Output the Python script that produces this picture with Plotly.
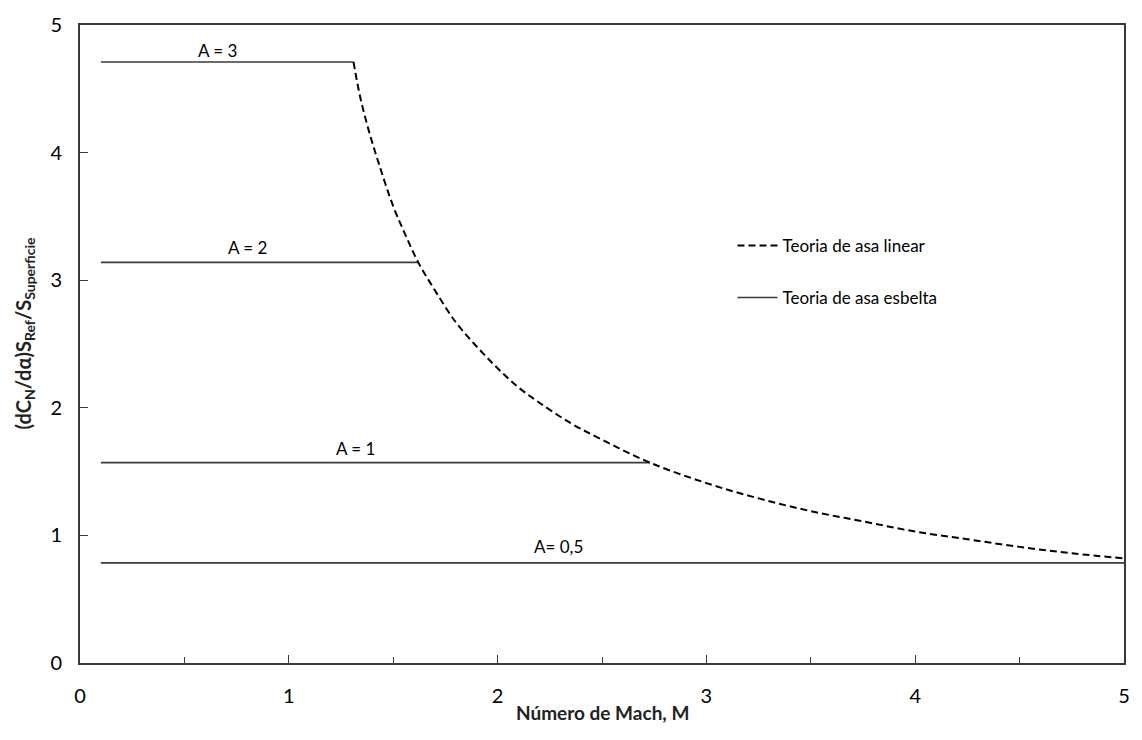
import plotly.graph_objects as go

# Linear wing theory curve (supersonic), normal-force slope vs Mach number
mach_linear = [1.31, 1.34, 1.38, 1.43, 1.50, 1.56, 1.62, 1.70, 1.80, 1.90, 2.00, 2.10, 2.20, 2.35,
               2.50, 2.73, 3.00, 3.25, 3.50, 3.75, 4.00, 4.25, 4.50, 4.75, 5.00]
cn_linear = [4.71, 4.45, 4.19, 3.92, 3.58, 3.35, 3.14, 2.92, 2.67, 2.48, 2.31, 2.16, 2.04, 1.88,
             1.75, 1.57, 1.41, 1.29, 1.19, 1.11, 1.03, 0.97, 0.91, 0.86, 0.82]

# Slender wing theory: constant levels per aspect ratio
aspect_labels = ["A = 3", "A = 2", "A = 1", "A= 0,5"]
slender_start = [0.1, 0.1, 0.1, 0.1]
slender_end = [1.31, 1.62, 2.73, 5.0]
slender_value = [4.71, 3.14, 1.57, 0.785]
label_x = [0.66, 0.80, 1.32, 2.29]
label_y = [4.80, 3.26, 1.68, 0.91]

FONT = "Lato, Carlito, Calibri, sans-serif"
LINE = "#3a3a3a"

fig = go.Figure()

for i, (x0, x1, v) in enumerate(zip(slender_start, slender_end, slender_value)):
    fig.add_trace(go.Scatter(
        x=[x0, x1], y=[v, v], mode="lines",
        line=dict(color=LINE, width=1.6),
        name="Teoria de asa esbelta", legendgroup="esbelta",
        showlegend=(i == 0), legendrank=2,
        hoverinfo="skip",
    ))

fig.add_trace(go.Scatter(
    x=mach_linear, y=cn_linear, mode="lines",
    line=dict(color="black", width=2, dash="7px,4px", shape="spline", smoothing=1.0),
    name="Teoria de asa linear", legendrank=1,
    hoverinfo="skip",
))

for txt, tx, ty in zip(aspect_labels, label_x, label_y):
    fig.add_annotation(x=tx, y=ty, text=txt, showarrow=False,
                       font=dict(family=FONT, size=17, color="black"))

fig.add_annotation(xref="paper", yref="paper", x=0.5, y=-0.057, yanchor="top",
                   text="<b>Número de Mach, M</b>", showarrow=False,
                   font=dict(family=FONT, size=19, color="#222"))
fig.add_annotation(xref="paper", yref="paper", x=-0.053, y=0.516, textangle=-90,
                   xanchor="center", yanchor="middle",
                   text="<b>(dC<sub>N</sub>/dα)S<sub>Ref</sub>/S<sub>Superficie</sub></b>",
                   showarrow=False, font=dict(family=FONT, size=20, color="#222"))

fig.update_layout(
    width=1142, height=740,
    margin=dict(l=80, r=14, t=14, b=77),
    paper_bgcolor="white", plot_bgcolor="white",
    font=dict(family=FONT, size=20, color="black"),
    showlegend=True,
    legend=dict(x=0.625, y=0.682, xanchor="left", yanchor="top",
                bgcolor="rgba(0,0,0,0)", font=dict(size=17),
                tracegroupgap=27, itemwidth=40),
    xaxis=dict(range=[0, 5], tickvals=[0, 1, 2, 3, 4, 5], ticks="inside",
               ticklen=8, tickwidth=1.3, tickcolor=LINE,
               minor=dict(tickvals=[0.5, 1.5, 2.5, 3.5, 4.5], ticks="inside",
                          ticklen=6, tickcolor=LINE, tickwidth=1.3),
               showline=True, linecolor=LINE, linewidth=1.6, mirror=True,
               showgrid=False, zeroline=False, ticklabelstandoff=14),
    yaxis=dict(range=[0, 5], tickvals=[0, 1, 2, 3, 4, 5], ticks="inside",
               ticklen=8, tickwidth=1.3, tickcolor=LINE,
               showline=True, linecolor=LINE, linewidth=1.6, mirror=True,
               showgrid=False, zeroline=False, ticklabelstandoff=12),
)

fig.write_html("out.html")
